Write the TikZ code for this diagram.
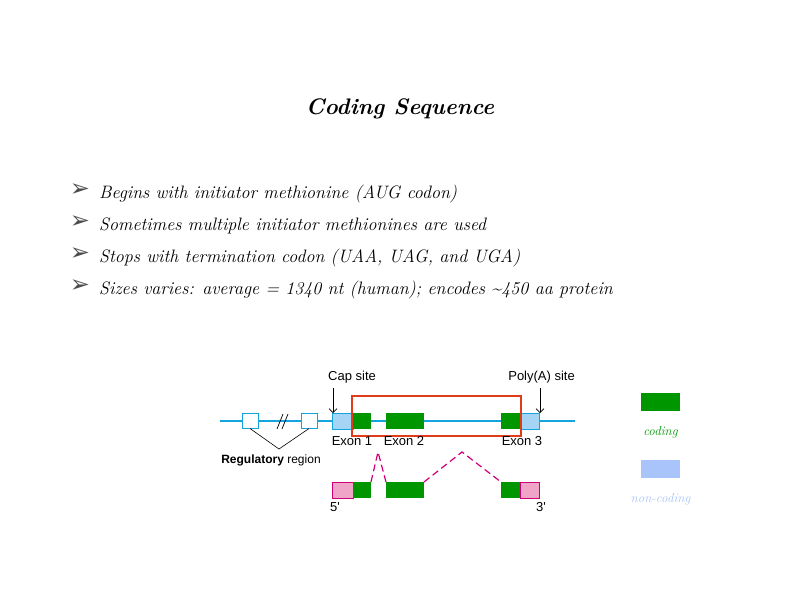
\documentclass[tikz,border=0pt]{standalone}
\usepackage{fontspec}
\newfontfamily\diagfont{Liberation Sans}
\newfontfamily\symfont{DejaVu Sans}
\usetikzlibrary{positioning,arrows.meta}

\definecolor{geneblue}{RGB}{20,165,225}
\definecolor{utrblue}{RGB}{165,212,245}
\definecolor{cdsgreen}{RGB}{0,150,0}
\definecolor{utrpink}{RGB}{240,165,200}
\definecolor{splicemag}{RGB}{205,0,120}
\definecolor{framered}{RGB}{225,60,25}
\definecolor{legblue}{RGB}{168,196,250}

\tikzset{
  box/.style={rectangle, inner sep=0pt, outer sep=0pt, minimum height=16pt},
  cds/.style={box, fill=cdsgreen},
  utr/.style={box, fill=utrblue, draw=geneblue, line width=0.6pt},
  mutr/.style={box, fill=utrpink, draw=splicemag, line width=0.6pt},
  regbox/.style={box, fill=white, draw=geneblue, line width=0.8pt, minimum width=16pt, minimum height=15pt},
  lbl/.style={font=\diagfont\fontsize{13}{13}\selectfont, inner sep=0pt},
  bullet/.style={font=\itshape\fontsize{18}{18}\selectfont, anchor=base west, inner sep=0pt},
  tip/.style={font=\symfont\fontsize{24}{24}\selectfont, text=black!70, inner sep=0pt},
  splice/.style={splicemag, line width=1.2pt, dash pattern=on 7pt off 4pt},
  site/.style={-{Straight Barb[length=4pt]}, line width=0.6pt}
}

\begin{document}
\begin{tikzpicture}[x=1pt, y=-1pt]
  \useasboundingbox (0,0) rectangle (800,600);

  % Title
  \node[font=\bfseries\itshape\fontsize{22.5}{22.5}\selectfont, anchor=base, inner sep=0pt] (title) at (400,114) {Coding Sequence};

  % Bullet list
  \node[bullet] (b1) at (99,198) {Begins with initiator methionine (AUG codon)};
  \node[bullet] (b2) at (99,230) {Sometimes multiple initiator methionines are used};
  \node[bullet] (b3) at (99,262) {Stops with termination codon (UAA, UAG, and UGA)};
  \node[bullet] (b4) at (99,294) {Sizes varies: average = 1340 nt (human); encodes \textasciitilde450 aa protein};
  \foreach \y in {190,222,254,286}
    \node[tip] at (80,\y) {➢};

  % Gene line
  \coordinate (gl) at (220,421);
  \coordinate (gr) at (575,421);
  \draw[geneblue, line width=1.2pt] (gl) -- (gr);

  % Regulatory region
  \node[regbox] (r1) at (250,421) {};
  \node[regbox] (r2) at (309,421) {};
  \draw[line width=0.7pt] (277,429) -- (283,414) (282,429) -- (288,414);
  \coordinate (rv) at (279,449);
  \draw[line width=0.6pt] (r1.south) -- (rv) -- (r2.south);
  \node[lbl, font=\diagfont\fontsize{12}{12}\selectfont, anchor=north] (reglbl) at (271,455) {\textbf{Regulatory} region};

  % Gene
  \node[utr, minimum width=21pt] (u5) at (342.5,421) {};
  \node[cds, minimum width=18pt] (e1) at (362,421) {};
  \node[cds, minimum width=38pt] (e2) at (405,421) {};
  \node[cds, minimum width=19pt] (e3) at (510.5,421) {};
  \node[utr, minimum width=19pt] (u3) at (529.5,421) {};
  \draw[framered, line width=1.5pt] (352,396) rectangle (521,436);

  % Sites
  \node[lbl, anchor=south west] (cap) at (328,383) {Cap site};
  \node[lbl, anchor=south east] (poly) at (575,383) {Poly(A) site};
  \draw[site] (333,388) -- (u5.north west -| 333,0);
  \draw[site] (540,388) -- (u3.north east -| 540,0);

  % Exon labels
  \node[lbl, anchor=north] (x1) at (352,436) {Exon 1};
  \node[lbl, anchor=north] (x2) at (404,436) {Exon 2};
  \node[lbl, anchor=north] (x3) at (522,436) {Exon 3};

  % mRNA
  \node[mutr, minimum width=21pt] (m5) at (342.5,490) {};
  \node[cds, minimum width=18pt] (m1) at (362,490) {};
  \node[cds, minimum width=38pt] (m2) at (405,490) {};
  \node[cds, minimum width=19pt] (m3) at (510.5,490) {};
  \node[mutr, minimum width=19pt] (m6) at (529.5,490) {};
  \coordinate (p1) at (378,452);
  \coordinate (p2) at (462,452);
  \draw[splice] (m1.north east) -- (p1) -- (m2.north west);
  \draw[splice] (m2.north east) -- (p2) -- (m3.north west);
  \node[lbl, anchor=north west] (five) at (330,502) {5'};
  \node[lbl, anchor=north east] (three) at (546,502) {3'};

  % Legend
  \node[box, fill=cdsgreen, minimum width=39pt, minimum height=18pt] (lc) at (660.5,402) {};
  \node[text=cdsgreen, font=\itshape\fontsize{13}{13}\selectfont, below=12pt of lc] (lct) {coding};
  \node[box, fill=legblue, minimum width=39pt, minimum height=18pt] (ln) at (660.5,469) {};
  \node[text=legblue, font=\itshape\fontsize{13}{13}\selectfont, below=12pt of ln] (lnt) {non-coding};
\end{tikzpicture}
\end{document}
